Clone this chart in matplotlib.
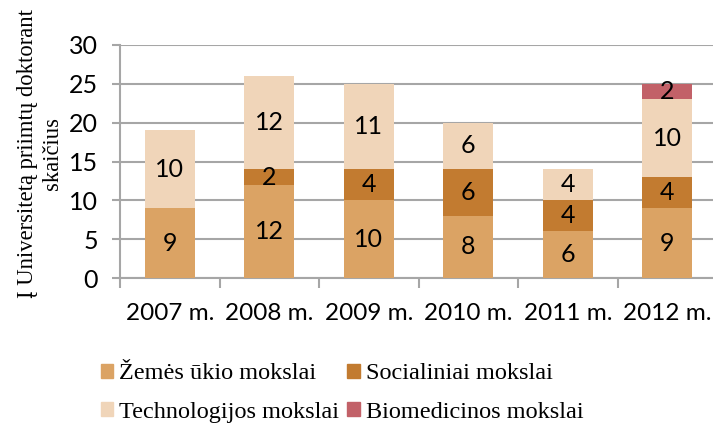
import matplotlib.pyplot as plt
import numpy as np
from matplotlib.patches import Patch

years = ["2007 m.", "2008 m.", "2009 m.", "2010 m.", "2011 m.", "2012 m."]
zemes = [9, 12, 10, 8, 6, 9]
social = [0, 2, 4, 6, 4, 4]
techno = [10, 12, 11, 6, 4, 10]
biomed = [0, 0, 0, 0, 0, 2]

names = ["Žemės ūkio mokslai", "Socialiniai mokslai",
         "Technologijos mokslai", "Biomedicinos mokslai"]
colors = ["#DBA364", "#C27B30", "#F0D5B9", "#C26168"]
series = [zemes, social, techno, biomed]

grid_c = "#A6A6A6"
tick_font = "Lato"
serif = "Liberation Serif"

fig = plt.figure(figsize=(7.13, 4.26), dpi=100)
ax = fig.add_axes([120 / 713, 1 - 278 / 426, 597 / 713, 233 / 426])

x = np.arange(len(years))
bottom = np.zeros(len(years))
for vals, c, name in zip(series, colors, names):
    vals = np.array(vals, dtype=float)
    bars = ax.bar(x, vals, 0.5, bottom=bottom, color=c, label=name, zorder=3)
    for b, v, y0 in zip(bars, vals, bottom):
        if v > 0:
            ax.text(b.get_x() + b.get_width() / 2, y0 + v / 2, f"{int(v)}",
                    ha="center", va="center", fontsize=18,
                    family=tick_font, color="black", zorder=4)
    bottom += vals

ax.set_xlim(-0.5, len(years) - 0.5)
ax.set_ylim(0, 30)
ax.set_yticks(range(0, 31, 5))
ax.yaxis.grid(True, color=grid_c, linewidth=1.5, zorder=0)

ax.set_xticks(x)
ax.set_xticklabels(years)
ax.set_xticks(np.arange(-0.5, len(years), 1), minor=True)
ax.tick_params(axis="x", which="major", length=0, pad=18, labelsize=17.5)
ax.tick_params(axis="x", which="minor", length=7, width=1.5, color=grid_c)
ax.tick_params(axis="y", length=6, width=1.5, color=grid_c, labelsize=18, pad=10)
for lab in ax.get_xticklabels() + ax.get_yticklabels():
    lab.set_family(tick_font)

for s in ["top", "right"]:
    ax.spines[s].set_visible(False)
for s in ["left", "bottom"]:
    ax.spines[s].set_color(grid_c)
    ax.spines[s].set_linewidth(1.5)

fig.text(40 / 713, 1 - 154 / 426,
         "Į Universitetą priimtų doktorant\nskaičius",
         rotation=90, ha="center", va="center", fontsize=16.3,
         family=serif, linespacing=1.25)

# legend is filled column by column, so reorder to get rows as in the original
order = [0, 2, 1, 3]
handles = [Patch(color=colors[i]) for i in order]
labels = [names[i] for i in order]
fig.legend(handles, labels, loc="center", ncol=2,
           bbox_to_anchor=(342 / 713, 1 - 393 / 426),
           frameon=False, prop={"family": serif, "size": 17.5},
           handlelength=0.5, handleheight=0.5, handletextpad=0.25,
           columnspacing=0.35, labelspacing=0.7, borderpad=0)

fig.savefig("out.png", dpi=100)
